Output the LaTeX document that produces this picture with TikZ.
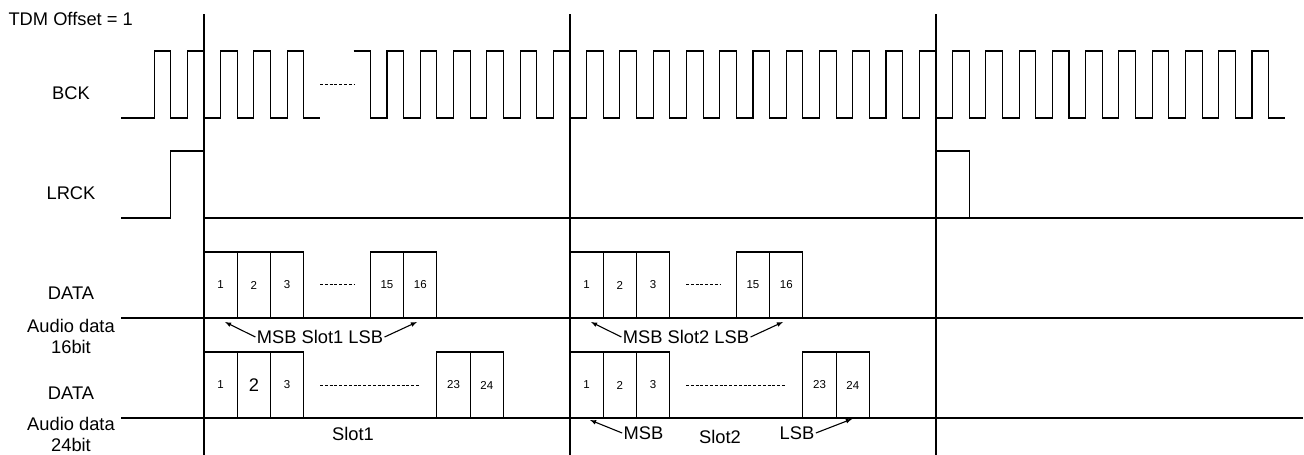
\documentclass[tikz,border=0pt]{standalone}
\usepackage{fontspec}
\setmainfont{Liberation Sans}
\usetikzlibrary{calc, positioning}

\begin{document}
\begin{tikzpicture}[>=latex, x=1pt, y=-1pt, line width=1.1pt,
    lbl/.style={font=\fontsize{18.3}{21}\selectfont},
    num/.style={font=\fontsize{11.5}{12}\selectfont},
    dots/.style={line width=0.9pt, dash pattern=on 3pt off 1.8pt}]
    \useasboundingbox (0,0) rectangle (1304,455);
    \def\per{33.27}

    % Nhãn tín hiệu
    \node[lbl, anchor=west, inner sep=0] (tdm) at (8,19) {TDM Offset = 1};
    \node[lbl] (bck) at (71,93) {BCK};
    \node[lbl] (lrck) at (71,193) {LRCK};
    \node[lbl] (data16) at (71,293) {DATA};
    \node[lbl, align=center] (aud16) at (71,336) {Audio data\\16bit};
    \node[lbl] (data24) at (71,393) {DATA};
    \node[lbl, align=center] (aud24) at (71,434) {Audio data\\24bit};

    % Đường chia khung
    \foreach \x in {204,570,936} \draw (\x,14) -- (\x,455);

    % BCK
    \draw (121,118) \foreach \k in {-1,...,3} {
        -- ({204+(\k-0.5)*\per},118) -- ({204+(\k-0.5)*\per},51)
        -- ({204+\k*\per},51) -- ({204+\k*\per},118)} -- ({204+3.5*\per},118);
    \draw[dots] (320,84) -- (354,84);
    \draw ({204+4.5*\per},51) -- ({204+5*\per},51) -- ({204+5*\per},118)
        \foreach \k in {6,...,32} {
        -- ({204+(\k-0.5)*\per},118) -- ({204+(\k-0.5)*\per},51)
        -- ({204+\k*\per},51) -- ({204+\k*\per},118)} -- ({204+32.5*\per},118);

    % LRCK
    \draw (121,218) -- ({204-\per},218) -- ({204-\per},151) -- (204,151)
        -- (204,218) -- (1303,218);
    \draw (936,218) -- (936,151) -- ({936+\per},151) -- ({936+\per},218);

    % Dữ liệu 16 bit
    \draw (121,318) -- (1303,318);
    \foreach \s/\n in {204/1,570/2} {
        \foreach \k/\t in {0/1,1/2,2/3,5/15,6/16}
            \draw ({\s+\k*\per},318) rectangle node[num] {\t} ++(\per,-66);
        \draw[dots] ({\s+116},284) -- ({\s+150},284);
        \node[lbl, inner sep=1pt] (slot\n) at ({\s+116},337) {MSB Slot\n{} LSB};
        \coordinate (msb\n) at ({\s+21},322);
        \coordinate (lsb\n) at ({\s+213},322);
        \draw[->] (slot\n.west) -- (msb\n);
        \draw[->] (slot\n.east) -- (lsb\n);
    }

    % Dữ liệu 24 bit
    \draw (121,418) -- (1303,418);
    \foreach \s in {204,570} {
        \foreach \k/\t in {0/1,2/3,7/23,8/24}
            \draw ({\s+\k*\per},418) rectangle node[num] {\t} ++(\per,-66);
        \draw[dots] ({\s+116},385) -- ({\s+216},385);
    }
    \draw ({204+\per},418) rectangle node[lbl] {2} ++(\per,-66);
    \draw ({570+\per},418) rectangle node[num] {2} ++(\per,-66);

    % Chú thích khe 24 bit
    \node[lbl] (slotA) at (353,434) {Slot1};
    \node[lbl, inner sep=1pt] (msbB) at (643.5,433) {MSB};
    \node[lbl] (slotB) at (720,437) {Slot2};
    \node[lbl, inner sep=1pt] (lsbB) at (797,433) {LSB};
    \coordinate (tipB1) at (590,420);
    \coordinate (tipB2) at (852,419);
    \draw[->] (msbB.west) -- (tipB1);
    \draw[->] (lsbB.east) -- (tipB2);
\end{tikzpicture}
\end{document}
